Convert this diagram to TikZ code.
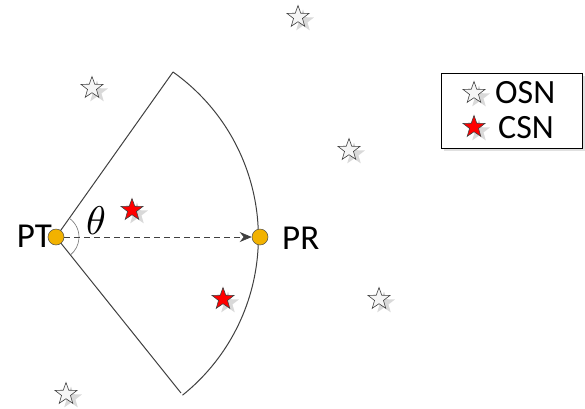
\documentclass[tikz,border=0pt]{standalone}
\usepackage{fontspec}
\setmainfont{Carlito}
\usetikzlibrary{shapes.geometric,arrows.meta,calc}
\definecolor{dotfill}{HTML}{F2B200}
\definecolor{edge}{HTML}{404040}
\tikzset{
  starshape/.style={star, star points=5, star point ratio=2.45, minimum size=23pt, inner sep=0pt, draw=edge, line width=0.6pt},
  ostar/.style={starshape, fill=white!96!black},
  cstar/.style={starshape, fill=red},
  starshadow/.style={star, star points=5, star point ratio=2.45, minimum size=23pt, inner sep=0pt, fill=black!15, draw=none},
  dot/.style={circle, fill=dotfill, draw=black!70, line width=0.5pt, minimum size=16pt, inner sep=0pt},
  lbl/.style={font=\fontsize{35}{35}\selectfont, inner sep=0pt},
  leglbl/.style={font=\fontsize{34}{34}\selectfont, inner sep=0pt},
}
\begin{document}
\begin{tikzpicture}[x=1pt,y=-1pt]
\useasboundingbox (0,0) rectangle (585,408);
% shadows of stars
\foreach \px/\py in {298/17,92/88,349/150,379/299,66/394,132/210,223/299}{
  \node[starshadow] at (\px+5,\py+4) {};
}
% sector
\coordinate (PTc) at (56,237);
\coordinate (up) at (173,72);
\coordinate (lo) at (181,393);
\draw[edge, line width=1pt] (up) -- (PTc) -- (lo);
\draw[edge, line width=1pt] (up) arc[start angle=-54.66, end angle=51.3, radius=202.5];
\draw[black!55, line width=0.6pt] (PTc) ++(-54.66:23) arc[start angle=-54.66, end angle=51.3, radius=23];
% stars
\node[ostar] (s1) at (298,17) {};
\node[ostar] (s2) at (92,88) {};
\node[ostar] (s3) at (349,150) {};
\node[ostar] (s4) at (379,299) {};
\node[ostar] (s5) at (66,394) {};
\node[cstar] (c1) at (132,210) {};
\node[cstar] (c2) at (223,299) {};
% dots
\node[dot] (PT) at (56,237) {};
\node[dot] (PR) at (260,237) {};
\draw[edge, dash pattern=on 6pt off 4pt, line width=0.7pt, -{Stealth[length=12pt,width=10pt]}] (PT) -- (PR);
\node[lbl, anchor=east] (ptl) at (52,236) {PT};
\node[lbl, anchor=west] (prl) at (282,238) {PR};
\node[scale=4, inner sep=0pt] (th) at (96,221) {$\theta$};
% legend
\fill[black!12] (444,76) rectangle (585,151);
\node[draw=black, line width=0.8pt, fill=white, minimum width=141pt, minimum height=75pt, inner sep=0pt] (leg) at (511.5,110.5) {};
\node[starshadow] at (479,97) {};
\node[starshadow] at (479,131) {};
\node[ostar] (lo1) at (474,93) {};
\node[cstar] (lc1) at (474,127) {};
\node[leglbl, anchor=west] (osn) at (495,92.5) {OSN};
\node[leglbl, anchor=west] (csn) at (498,128) {CSN};
\end{tikzpicture}
\end{document}
